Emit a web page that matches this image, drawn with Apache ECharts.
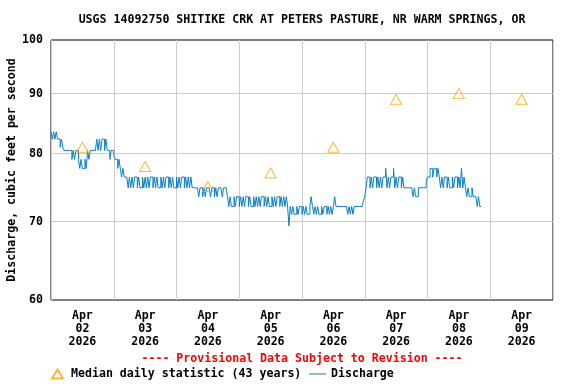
<!DOCTYPE html>
<html><head><meta charset="utf-8">
<script src="https://cdn.jsdelivr.net/npm/echarts@6/dist/echarts.min.js"></script>
<style>html,body{margin:0;padding:0;background:#fff}#c{width:576px;height:384px}</style>
</head><body><div id="c"></div>
<script>
// ---- data ----
const titleText = 'USGS 14092750 SHITIKE CRK AT PETERS PASTURE, NR WARM SPRINGS, OR';
const provisionalText = '---- Provisional Data Subject to Revision ----';
const yAxisTitle = 'Discharge, cubic feet per second';
const yTicks = [60, 70, 80, 90, 100];
const monthLabel = 'Apr';
const yearLabel = '2026';
const dayLabels = ['02', '03', '04', '05', '06', '07', '08', '09'];
const medianName = 'Median daily statistic (43 years)';
const dischargeName = 'Discharge';
// hours since Apr 02 00:00 (noon of each day)
const medianHours = [12, 36, 60, 84, 108, 132, 156, 180];
const medianValues = [81, 78, 75, 77, 81, 89, 90, 89];
// discharge, cfs, every 30 minutes starting Apr 02 00:00
const dischargeStartHour = 0;
const dischargeStepHours = 0.5;
const dischargeValues = [
  83.5,82.3,83.5,82.3,83.5,82.3,82.3,
  81.0,82.3,81.0,
  80.5,80.5,80.5,80.5,80.5,80.5,
  79.1,80.5,79.1,80.5,
  80.5,79.1,
  77.7,79.1,77.7,77.7,79.1,77.7,
  80.5,79.1,
  80.5,80.5,80.5,80.5,80.5,
  82.3,80.5,82.3,80.5,82.3,82.3,80.5,82.3,
  80.5,80.5,79.1,80.5,80.5,
  79.8,79.1,
  79.1,77.7,79.1,
  77.7,76.4,77.7,76.4,76.4,
  76.4,74.8,76.4,
  74.8,76.4,74.8,76.4,76.4,74.8,76.4,74.8,74.8,76.4,
  74.8,76.4,74.8,76.4,74.8,76.4,76.4,74.8,76.4,74.8,
  76.4,74.8,74.8,76.4,74.8,76.4,74.8,76.4,76.4,74.8,
  76.4,74.8,76.4,74.8,74.8,76.4,74.8,76.4,74.8,76.4,
  76.4,74.8,76.4,74.8,76.4,74.8,
  76.4,74.8,74.8,74.8,74.8,
  74.8,73.5,74.8,74.8,73.5,74.8,73.5,74.8,74.8,74.8,73.5,74.8,74.8,73.5,74.8,73.5,74.8,74.8,74.8,73.5,74.8,74.8,74.8,
  73.5,72.1,73.5,72.1,72.1,73.5,72.1,73.5,73.5,72.1,
  73.5,72.1,73.5,72.1,73.5,73.5,72.1,73.5,72.1,72.1,
  73.5,72.1,73.5,72.1,73.5,72.1,73.5,73.5,72.1,73.5,
  72.1,73.5,72.1,72.1,73.5,72.1,73.5,72.1,73.5,73.5,
  72.1,73.5,72.1,73.5,72.1,73.5,
  72.1,69.4,
  72.1,71.0,72.1,71.0,71.0,72.1,71.0,72.1,72.1,71.0,
  72.1,71.0,72.1,71.0,71.0,72.1,73.5,72.1,71.0,72.1,
  71.0,72.1,71.0,71.0,72.1,71.0,72.1,72.1,71.0,72.1,
  71.0,72.1,71.0,72.1,73.5,
  72.1,72.1,72.1,72.1,72.1,72.1,72.1,72.1,72.1,
  71.0,72.1,71.0,72.1,71.0,72.1,72.1,72.1,
  72.1,72.1,72.1,72.1,
  72.9,73.5,74.8,76.4,
  76.4,74.8,76.4,74.8,76.4,76.4,74.8,76.4,74.8,76.4,
  74.8,76.4,76.4,77.7,74.8,76.4,74.8,76.4,76.4,77.7,
  74.8,76.4,74.8,76.4,76.4,74.8,76.4,74.8,
  74.8,74.8,74.8,74.8,74.8,74.8,
  73.5,74.8,73.5,73.5,74.8,
  74.8,74.8,74.8,74.8,74.8,75.8,
  76.4,76.4,77.7,
  77.7,76.4,77.7,77.7,76.4,77.7,76.4,
  74.8,76.4,74.8,76.4,76.4,74.8,76.4,74.8,74.8,76.4,74.8,76.4,76.4,74.8,76.4,74.8,
  77.7,
  74.8,76.4,
  74.8,73.5,74.8,73.5,73.5,74.8,73.5,73.5,
  73.5,72.1,73.5,72.1,72.1
];
const axisMinHour = 0;
const axisMaxHour = 192;

// ---- chart ----
const FONT = "'DejaVu Sans Mono', 'Liberation Mono', monospace";
const txt = { fontFamily: FONT, fontWeight: 'bold', fontSize: 11.6, color: '#000' };
const dischargeData = dischargeValues.map((v, i) => [dischargeStartHour + i * dischargeStepHours, v]);
const medianData = medianHours.map((h, i) => [h, medianValues[i]]);
const labelHours = dayLabels.map((d, i) => 12 + 24 * i);
const LINE_COLOR = '#0a7fc8';

const chart = echarts.init(document.getElementById('c'), null, { renderer: 'canvas' });
chart.setOption({
  animation: false,
  backgroundColor: '#fff',
  title: [
    { text: titleText, left: 302, top: 14, textAlign: 'center', padding: 0,
      textStyle: Object.assign({}, txt) },
    { text: provisionalText, left: 302, top: 353, textAlign: 'center', padding: 0,
      textStyle: Object.assign({}, txt, { color: '#ff0000' }) }
  ],
  legend: [
    { data: [{ name: medianName, icon: 'triangle' }], left: 51, top: 368, padding: 0,
      itemWidth: 11, itemHeight: 9, itemGap: 0,
      textStyle: Object.assign({}, txt, { padding: [0, 0, 0, 3] }) },
    { data: [{ name: dischargeName, icon: 'rect', itemStyle: { color: LINE_COLOR, borderWidth: 0 } }],
      left: 309, top: 368, padding: 0,
      itemWidth: 17, itemHeight: 1, itemGap: 0,
      textStyle: Object.assign({}, txt) }
  ],
  grid: { left: 51, right: 23, top: 40, bottom: 84, show: true, outerBoundsMode: 'none',
    borderColor: '#000', borderWidth: 1, backgroundColor: 'transparent', containLabel: false },
  xAxis: {
    type: 'value', min: axisMinHour, max: axisMaxHour, interval: 24,
    axisLine: { show: false }, axisTick: { show: false },
    splitLine: { show: true, lineStyle: { color: '#cccccc', width: 1 } },
    axisLabel: Object.assign({}, txt, {
      customValues: labelHours, margin: 9, lineHeight: 13,
      formatter: v => monthLabel + '\n' + dayLabels[Math.round((v - 12) / 24)] + '\n' + yearLabel
    })
  },
  yAxis: {
    type: 'log', logBase: 10, min: 60, max: 100,
    name: yAxisTitle, nameLocation: 'middle', nameGap: 33, nameRotate: 90,
    nameTextStyle: Object.assign({}, txt),
    axisLine: { show: false }, axisTick: { show: false },
    axisLabel: { show: false }, splitLine: { show: false }
  },
  series: [
    {
      name: dischargeName, type: 'line', data: dischargeData, step: 'end',
      symbol: 'none', showSymbol: false, z: 3,
      lineStyle: { color: LINE_COLOR, width: 1 }, itemStyle: { color: LINE_COLOR },
      markLine: {
        silent: true, symbol: 'none', z: 1, animation: false,
        label: Object.assign({}, txt, { position: 'start', distance: 8, formatter: p => String(p.value) }),
        lineStyle: { color: '#cccccc', width: 1, type: 'solid' },
        emphasis: { disabled: true },
        data: yTicks.map(v => ({
          yAxis: v,
          lineStyle: (v === 60 || v === 100) ? { color: 'rgba(0,0,0,0)' } : { color: '#cccccc' }
        }))
      }
    },
    {
      name: medianName, type: 'scatter', data: medianData, symbol: 'triangle',
      symbolSize: [11, 10], z: 4,
      itemStyle: { color: 'rgba(255,255,255,0)', borderColor: '#ffa500', borderWidth: 1 }
    }
  ]
});
</script>
</body></html>
